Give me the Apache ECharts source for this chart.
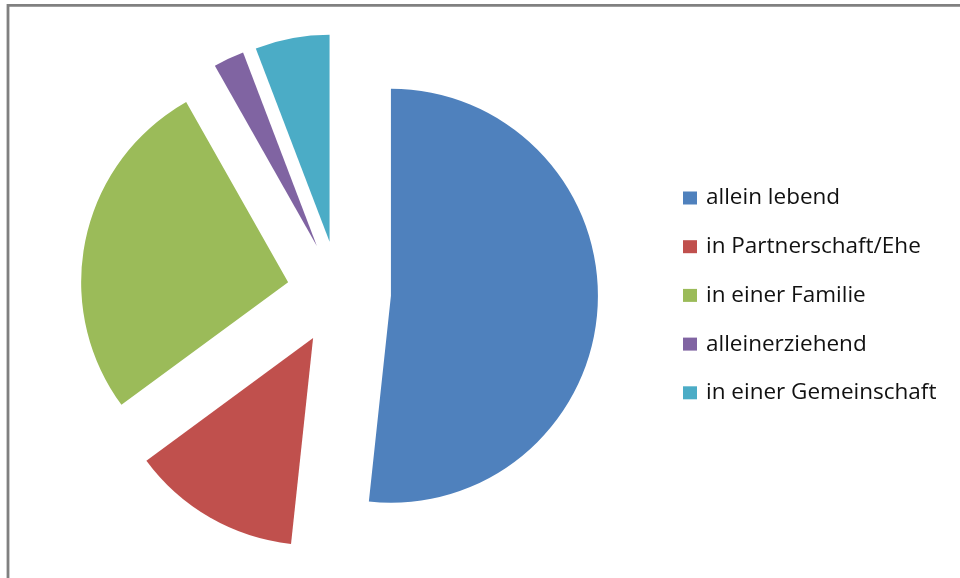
<!DOCTYPE html>
<html>
<head>
<meta charset="utf-8">
<style>
  html, body { margin: 0; padding: 0; background: #fff; }
  #chart { width: 960px; height: 578px; }
</style>
<script src="https://cdn.jsdelivr.net/npm/echarts@6/dist/echarts.min.js"></script>
</head>
<body>
<div id="chart"></div>
<script>
// Living situation shares (percent)
const categories = ['allein lebend', 'in Partnerschaft/Ehe', 'in einer Familie', 'alleinerziehend', 'in einer Gemeinschaft'];
const shares = [51.7, 13.2, 26.9, 2.4, 5.8];
const colors = ['#4F81BD', '#C0504D', '#9BBB59', '#8064A2', '#4BACC6'];

const chart = echarts.init(document.getElementById('chart'), null, { renderer: 'canvas' });

const pieData = categories.map((name, i) => ({
  name,
  value: shares[i],
  selected: true,
  itemStyle: { color: colors[i] }
}));

chart.setOption({
  animation: false,
  backgroundColor: '#ffffff',
  color: colors,
  legend: {
    orient: 'vertical',
    left: 678,
    top: 181,
    icon: 'rect',
    itemWidth: 14,
    itemHeight: 13,
    itemGap: 24.7,
    selectedMode: false,
    textStyle: {
      fontFamily: 'Open Sans',
      fontSize: 22.5,
      color: '#111',
      lineHeight: 24,
      padding: [0, 0, 0, 4]
    },
    data: categories
  },
  graphic: [
    {
      type: 'polyline',
      silent: true,
      shape: { points: [[8, 600], [8, 5.3], [980, 5.3]] },
      style: { stroke: '#808080', lineWidth: 2.8, fill: null }
    }
  ],
  series: [{
    type: 'pie',
    center: [339, 293],
    radius: 207,
    startAngle: 90,
    clockwise: true,
    selectedMode: 'multiple',
    selectedOffset: 52,
    avoidLabelOverlap: false,
    label: { show: false },
    labelLine: { show: false },
    emphasis: { disabled: true },
    itemStyle: { borderWidth: 0 },
    data: pieData
  }]
});
</script>
</body>
</html>
